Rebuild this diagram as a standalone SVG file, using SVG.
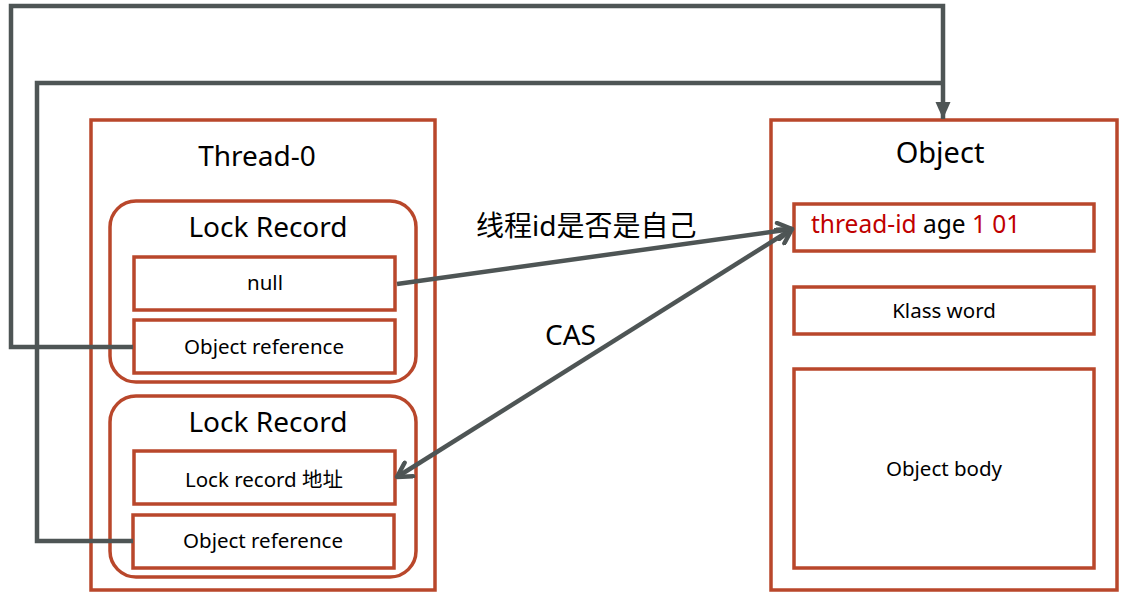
<svg xmlns="http://www.w3.org/2000/svg" width="1124" height="598" viewBox="0 0 1124 598">
<style>
.box{fill:#fff;stroke:#B9472B;stroke-width:3.5}
.frame{fill:none;stroke:#B9472B;stroke-width:3.5}
.line{fill:none;stroke:#4E5555;stroke-width:4.5;stroke-linejoin:miter}
.t{font-family:"Noto Sans","Noto Sans CJK SC",sans-serif;fill:#000;text-anchor:middle}
.big{font-size:28px}
.small{font-size:20.5px}
.red{fill:#C00000}
</style>
<defs>
<marker id="tri" markerUnits="userSpaceOnUse" viewBox="0 0 18 18" refX="17" refY="9" markerWidth="18" markerHeight="18" orient="auto">
<path d="M0,1.5 L17,9 L0,16.5 Z" fill="#4E5555"/>
</marker>
<marker id="open" markerUnits="userSpaceOnUse" viewBox="0 0 20 20" refX="17" refY="10" markerWidth="20" markerHeight="20" orient="auto-start-reverse">
<path d="M3,2 L17,10 L3,18" fill="none" stroke="#4E5555" stroke-width="4.5" stroke-linecap="round" stroke-linejoin="round"/>
</marker>
</defs>
<rect width="1124" height="598" fill="#fff"/>
<g id="thread0">
<rect class="frame" x="91" y="120" width="344" height="470"/>
<text class="t big" x="257" y="166">Thread-0</text>
</g>
<g id="lockrecord1">
<rect class="frame" x="110" y="201" width="306" height="181" rx="26"/>
<text class="t big" x="268" y="237">Lock Record</text>
</g>
<g id="null">
<rect class="box" x="134" y="257" width="261" height="53"/>
<text class="t small" x="265" y="290">null</text>
</g>
<g id="objref1">
<rect class="box" x="134" y="320" width="261" height="53"/>
<text class="t small" x="264" y="354">Object reference</text>
</g>
<g id="lockrecord2">
<rect class="frame" x="110" y="396" width="306" height="181" rx="26"/>
<text class="t big" x="268" y="432">Lock Record</text>
</g>
<g id="lockaddr">
<rect class="box" x="134" y="451" width="261" height="53"/>
<text class="t small" x="264" y="487">Lock record 地址</text>
</g>
<g id="objref2">
<rect class="box" x="133" y="515" width="261" height="53"/>
<text class="t small" x="263" y="548">Object reference</text>
</g>
<g id="object">
<rect class="frame" x="771" y="120" width="346" height="470"/>
<text class="t big" x="940" y="163" style="font-size:29px">Object</text>
</g>
<g id="markword">
<rect class="box" x="794" y="204" width="300" height="47"/>
<text x="811" y="233" style="font-family:'Noto Sans',sans-serif;font-size:24.5px"><tspan class="red">thread-id</tspan> age <tspan class="red">1 01</tspan></text>
</g>
<g id="klass">
<rect class="box" x="794" y="287" width="300" height="47"/>
<text class="t small" x="944" y="318">Klass word</text>
</g>
<g id="body">
<rect class="box" x="794" y="369" width="300" height="199"/>
<text class="t small" x="944" y="476">Object body</text>
</g>
<g id="connectors">
<polyline class="line" points="133,347 11,347 11,6 943,6 943,119" marker-end="url(#tri)"/>
<polyline class="line" points="133,541 37,541 37,83 943,83"/>
<line class="line" x1="397" y1="284" x2="792" y2="229" marker-end="url(#open)"/>
<line class="line" x1="397" y1="477" x2="792" y2="229" marker-start="url(#open)" marker-end="url(#open)"/>
</g>
<text x="476" y="236" style="font-family:'Noto Sans','Noto Sans CJK SC',sans-serif;font-size:28px">线程id是否是自己</text>
<text x="545" y="345" style="font-family:'Noto Sans',sans-serif;font-size:28px">CAS</text>
</svg>
